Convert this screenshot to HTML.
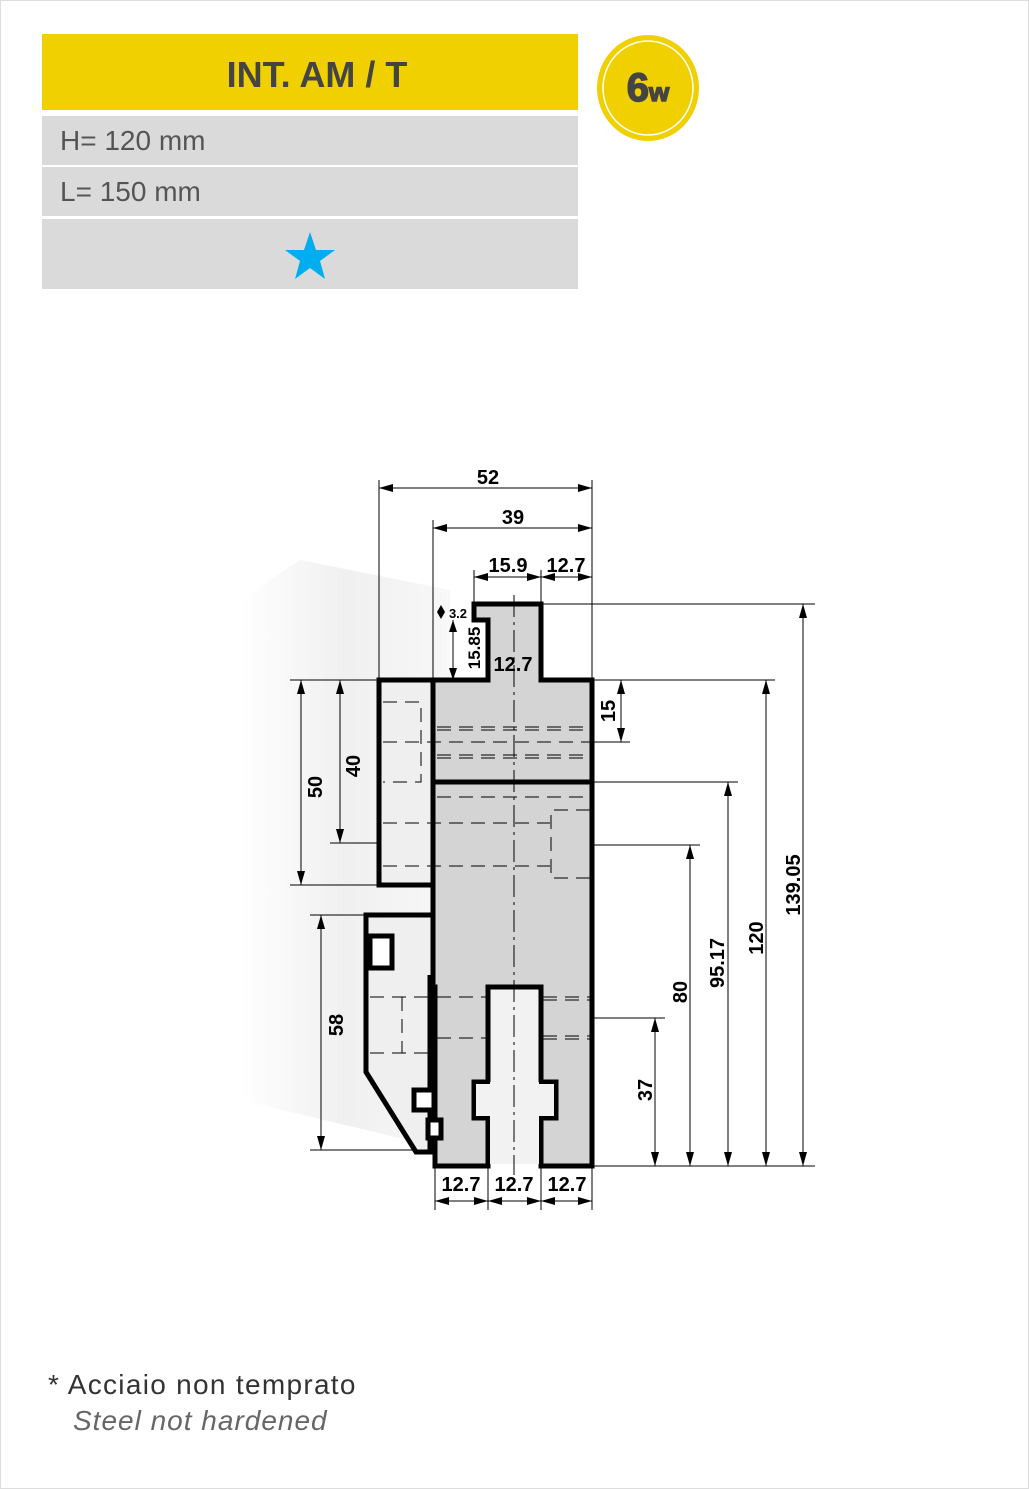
<!DOCTYPE html>
<html><head><style>
body{margin:0;background:#fff;}
.wrap{position:relative;width:1029px;height:1489px;overflow:hidden;font-family:"Liberation Sans",sans-serif;}
</style></head><body><div class="wrap">
<svg width="1029" height="1489" viewBox="0 0 1029 1489" style="position:absolute;left:0;top:0">
<defs>
<linearGradient id="bg" x1="0" y1="0" x2="1" y2="0">
<stop offset="0" stop-color="#fff"/><stop offset="0.5" stop-color="#ececec"/><stop offset="1" stop-color="#f6f6f6"/>
</linearGradient>
</defs>
<rect x="0.5" y="0.5" width="1028" height="1488" fill="none" stroke="#ddd"/>
<!-- header -->
<rect x="42" y="34" width="536" height="76" fill="#f0d000"/>
<text x="317" y="87" font-size="36" font-weight="bold" fill="#444" text-anchor="middle" font-family="Liberation Sans Narrow, Liberation Sans, sans-serif">INT. AM / T</text>
<rect x="42" y="116" width="536" height="49" fill="#dadada"/>
<rect x="42" y="167" width="536" height="49" fill="#dadada"/>
<rect x="42" y="219" width="536" height="70" fill="#dadada"/>
<text x="60" y="150" font-size="28" fill="#555">H= 120 mm</text>
<text x="60" y="201" font-size="28" fill="#555">L= 150 mm</text>
<polygon points="310,232 316,250 335,250 320,261 325,279 310,268 295,279 300,261 285,250 304,250" fill="#00aeef"/>
<ellipse cx="648" cy="88" rx="51" ry="53" fill="#f0d000"/>
<ellipse cx="648" cy="88" rx="45" ry="47" fill="none" stroke="#fff" stroke-width="1.5"/>
<text x="648" y="101" font-size="40" font-weight="bold" fill="#444" text-anchor="middle" stroke="#444" stroke-width="1.5">6<tspan font-size="26">w</tspan></text>
<!-- background streaks -->
<polygon points="300,560 450,590 450,1150 240,1100 240,600" fill="url(#bg)" opacity="0.8"/>
<g stroke="#000" stroke-width="1">
<line x1="379" y1="480" x2="379" y2="680"/><line x1="592" y1="480" x2="592" y2="680"/>
<line x1="433" y1="520" x2="433" y2="680"/><line x1="474" y1="570" x2="474" y2="604"/><line x1="541" y1="570" x2="541" y2="604"/>
<line x1="541" y1="604" x2="815" y2="604"/>
<line x1="592" y1="680" x2="775" y2="680"/>
<line x1="592" y1="742" x2="630" y2="742"/>
<line x1="592" y1="782" x2="738" y2="782"/>
<line x1="592" y1="845" x2="700" y2="845"/>
<line x1="592" y1="1018" x2="665" y2="1018"/>
<line x1="592" y1="1166" x2="815" y2="1166"/>
<line x1="290" y1="680" x2="379" y2="680"/><line x1="290" y1="885" x2="379" y2="885"/>
<line x1="330" y1="843" x2="433" y2="843"/>
<line x1="310" y1="915" x2="366" y2="915"/><line x1="310" y1="1150" x2="416" y2="1150"/>
<line x1="435" y1="1166" x2="435" y2="1210"/><line x1="488" y1="1166" x2="488" y2="1210"/><line x1="541" y1="1166" x2="541" y2="1210"/><line x1="592" y1="1166" x2="592" y2="1210"/>
<line x1="379" y1="488" x2="592" y2="488"/><line x1="433" y1="528" x2="592" y2="528"/>
<line x1="474" y1="577" x2="592" y2="577"/>
<line x1="803" y1="604" x2="803" y2="1166"/><line x1="766" y1="680" x2="766" y2="1166"/>
<line x1="728" y1="782" x2="728" y2="1166"/><line x1="690" y1="845" x2="690" y2="1166"/>
<line x1="655" y1="1018" x2="655" y2="1166"/><line x1="621" y1="680" x2="621" y2="742"/>
<line x1="301" y1="680" x2="301" y2="885"/><line x1="340" y1="680" x2="340" y2="843"/>
<line x1="321" y1="915" x2="321" y2="1150"/>
<line x1="435" y1="1201" x2="592" y2="1201"/>
<line x1="453" y1="620" x2="453" y2="680"/>
<line x1="433" y1="1018" x2="592" y2="1018"/>
</g>
<g fill="#000">
<polygon points="379,488 393,484 393,492"/><polygon points="592,488 578,484 578,492"/>
<polygon points="433,528 447,524 447,532"/><polygon points="592,528 578,524 578,532"/>
<polygon points="474,577 488,573 488,581"/><polygon points="541,577 527,573 527,581"/><polygon points="541,577 555,573 555,581"/><polygon points="592,577 578,573 578,581"/>
<polygon points="803,604 799,618 807,618"/><polygon points="803,1166 799,1152 807,1152"/>
<polygon points="766,680 762,694 770,694"/><polygon points="766,1166 762,1152 770,1152"/>
<polygon points="728,782 724,796 732,796"/><polygon points="728,1166 724,1152 732,1152"/>
<polygon points="690,845 686,859 694,859"/><polygon points="690,1166 686,1152 694,1152"/>
<polygon points="655,1018 651,1032 659,1032"/><polygon points="655,1166 651,1152 659,1152"/>
<polygon points="621,680 617,694 625,694"/><polygon points="621,742 617,728 625,728"/>
<polygon points="301,680 297,694 305,694"/><polygon points="301,885 297,871 305,871"/>
<polygon points="340,680 336,694 344,694"/><polygon points="340,843 336,829 344,829"/>
<polygon points="321,915 317,929 325,929"/><polygon points="321,1150 317,1136 325,1136"/>
<polygon points="435,1201 449,1197 449,1205"/><polygon points="488,1201 474,1197 474,1205"/><polygon points="488,1201 502,1197 502,1205"/><polygon points="541,1201 527,1197 527,1205"/><polygon points="541,1201 555,1197 555,1205"/><polygon points="592,1201 578,1197 578,1205"/>
<polygon points="453,620 449,632 457,632"/><polygon points="453,680 449,668 457,668"/>
<polygon points="488,680 500,676 500,684"/><polygon points="541,680 529,676 529,684"/>
<polygon points="441,605 445,612 441,619 437,612"/>
</g>
<g stroke="#000" stroke-width="5" stroke-linejoin="miter">
<rect x="379" y="680" width="54" height="205" fill="#efefef"/>
<polygon points="366,915 433,915 433,1152 416,1152 366,1072" fill="#efefef"/>
<polygon points="474,604 541,604 541,680 592,680 592,1166 541,1166 541,1118 556,1118 556,1082 541,1082 541,987 488,987 488,1082 474,1082 474,1118 488,1118 488,1166 435,1166 435,987 433,987 433,680 488,680 488,620 474,620" fill="#d4d4d4"/>
<line x1="433" y1="782" x2="592" y2="782"/>
<line x1="435" y1="987" x2="435" y2="1166"/>
<line x1="430" y1="975" x2="430" y2="1150"/>
<rect x="370" y="936" width="22" height="32" fill="#fff"/>
<rect x="414" y="1090" width="20" height="20" fill="#fff"/>
<rect x="428" y="1120" width="13" height="18" fill="#fff"/>
</g>
<rect x="490" y="989" width="49" height="175" fill="#f2f2f2"/>
<rect x="476" y="1084" width="78" height="32" fill="#f2f2f2"/>
<g stroke="#000" stroke-width="5"><line x1="488" y1="987" x2="488" y2="1082"/><line x1="541" y1="987" x2="541" y2="1082"/><line x1="488" y1="987" x2="541" y2="987"/></g>
<g stroke="#000" stroke-width="1" stroke-dasharray="14,8" fill="none">
<line x1="437" y1="727" x2="590" y2="727"/><line x1="437" y1="730" x2="590" y2="730"/>
<line x1="437" y1="755" x2="590" y2="755"/><line x1="437" y1="758" x2="590" y2="758"/>
<line x1="383" y1="742" x2="590" y2="742"/>
<line x1="437" y1="797" x2="590" y2="797"/>
<line x1="383" y1="823" x2="550" y2="823"/><line x1="383" y1="866" x2="550" y2="866"/>
<polyline points="383,702 421,702 421,782 383,782"/>
<polyline points="590,810 551,810 551,878 590,878"/>
<line x1="370" y1="997" x2="433" y2="997"/><line x1="370" y1="1053" x2="433" y2="1053"/>
<line x1="402" y1="997" x2="402" y2="1053"/>
<line x1="437" y1="997" x2="488" y2="997"/><line x1="437" y1="1038" x2="488" y2="1038"/>
<line x1="543" y1="997" x2="590" y2="997"/><line x1="543" y1="1000" x2="590" y2="1000"/>
<line x1="543" y1="1036" x2="590" y2="1036"/><line x1="543" y1="1039" x2="590" y2="1039"/>
</g>
<line x1="514" y1="595" x2="514" y2="1175" stroke="#000" stroke-width="1" stroke-dasharray="22,5,3,5"/>
<g font-size="20" font-weight="bold" fill="#000" font-family="Liberation Sans Narrow, Liberation Sans, sans-serif" text-anchor="middle">
<text x="488" y="484">52</text>
<text x="513" y="524">39</text>
<text x="508" y="572">15.9</text>
<text x="566" y="572">12.7</text>
<text x="513" y="671">12.7</text>
<text x="461" y="1191">12.7</text>
<text x="514" y="1191">12.7</text>
<text x="567" y="1191">12.7</text>
<text x="458" y="618" font-size="13">3.2</text>
<text transform="translate(480,648) rotate(-90)" font-size="17">15.85</text>
<text transform="translate(615,711) rotate(-90)">15</text>
<text transform="translate(322,787) rotate(-90)">50</text>
<text transform="translate(360,766) rotate(-90)">40</text>
<text transform="translate(343,1025) rotate(-90)">58</text>
<text transform="translate(652,1090) rotate(-90)">37</text>
<text transform="translate(687,992) rotate(-90)">80</text>
<text transform="translate(724,963) rotate(-90)">95.17</text>
<text transform="translate(763,938) rotate(-90)">120</text>
<text transform="translate(800,885) rotate(-90)">139.05</text>
</g>
<text x="48" y="1394" font-size="28" fill="#333" letter-spacing="1.3">* Acciaio non temprato</text>
<text x="73" y="1430" font-size="28" font-style="italic" fill="#666" letter-spacing="1">Steel not hardened</text>
</svg>
</div></body></html>
